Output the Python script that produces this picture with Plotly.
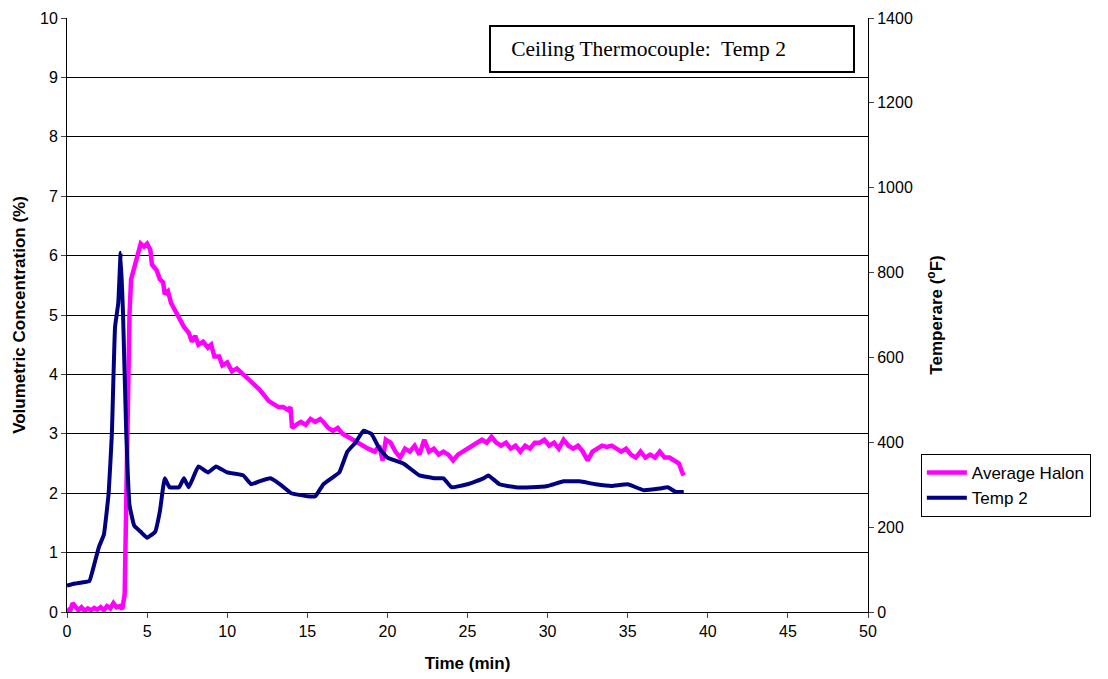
import plotly.graph_objects as go

# Average Halon (volumetric %) vs time (min)
halon_t = [0, 0.2, 0.35, 0.5, 0.7, 0.9, 1.1, 1.3, 1.5, 1.7, 1.9, 2.1, 2.3, 2.5, 2.7, 2.9, 3.1, 3.3, 3.45,
           3.6, 3.7, 3.8, 3.9, 4.0, 4.2, 4.4, 4.6, 4.8, 5.0, 5.2, 5.3, 5.6, 5.8, 6.0, 6.1, 6.3, 6.5, 6.8,
           7.0, 7.3, 7.6, 7.8, 8.0, 8.2, 8.5, 8.8, 9.0, 9.2, 9.5, 9.7, 10.0, 10.3, 10.6, 11.0, 11.3, 11.6,
           12.0, 12.3, 12.6, 12.9, 13.2, 13.5, 13.8, 13.95, 14.05, 14.3, 14.6, 14.9, 15.2, 15.5, 15.8,
           16.0, 16.3, 16.6, 16.9, 17.2, 17.5, 17.8, 18.1, 18.4, 18.8, 19.2, 19.5, 19.7, 19.9, 20.2,
           20.5, 20.8, 21.1, 21.4, 21.7, 22.0, 22.3, 22.6, 22.9, 23.2, 23.5, 23.8, 24.1, 24.4, 24.7,
           25.0, 25.3, 25.6, 25.9, 26.2, 26.5, 26.8, 27.1, 27.4, 27.7, 28.0, 28.3, 28.6, 28.9, 29.2,
           29.5, 29.8, 30.1, 30.4, 30.7, 31.0, 31.3, 31.6, 31.9, 32.2, 32.5, 32.8, 33.1, 33.4, 33.7,
           34.0, 34.3, 34.6, 34.9, 35.2, 35.5, 35.8, 36.1, 36.4, 36.7, 37.0, 37.3, 37.6, 37.9, 38.2,
           38.4, 38.5]
halon_v = [0.05, 0.02, 0.15, 0.1, 0.03, 0.08, 0.02, 0.06, 0.03, 0.07, 0.04, 0.08, 0.03, 0.1, 0.06, 0.15, 0.08, 0.1, 0.05,
           0.3, 2.0, 4.0, 5.0, 5.6, 5.8, 6.0, 6.2, 6.15, 6.2, 6.1, 5.85, 5.75, 5.6, 5.55, 5.35, 5.4, 5.2, 5.05,
           4.95, 4.8, 4.7, 4.55, 4.65, 4.5, 4.55, 4.45, 4.5, 4.3, 4.3, 4.15, 4.2, 4.05, 4.1, 4.0, 3.95, 3.85,
           3.75, 3.65, 3.55, 3.5, 3.45, 3.45, 3.4, 3.45, 3.1, 3.15, 3.2, 3.15, 3.25, 3.2, 3.25,
           3.2, 3.1, 3.05, 3.1, 3.0, 2.95, 2.9, 2.85, 2.8, 2.75, 2.7, 2.8, 2.55, 2.9, 2.85,
           2.7, 2.6, 2.75, 2.7, 2.8, 2.65, 2.9, 2.7, 2.75, 2.65, 2.7, 2.65, 2.55, 2.65, 2.7,
           2.75, 2.8, 2.85, 2.9, 2.85, 2.95, 2.85, 2.8, 2.85, 2.75, 2.8, 2.7, 2.8, 2.75, 2.85,
           2.85, 2.9, 2.8, 2.85, 2.75, 2.9, 2.8, 2.75, 2.8, 2.7, 2.55, 2.7, 2.75, 2.8, 2.78,
           2.8, 2.75, 2.7, 2.75, 2.65, 2.6, 2.7, 2.6, 2.65, 2.6, 2.7, 2.6, 2.6, 2.55, 2.5,
           2.35, 2.3]

# Temp 2 (deg F) vs time (min)
temp_t = [0, 0.5, 1.0, 1.4, 1.7, 2.0, 2.3, 2.6, 2.8, 3.0, 3.2, 3.35, 3.5, 3.7, 3.9, 4.2, 4.6, 5.0, 5.5,
          5.8, 6.1, 6.4, 7.0, 7.3, 7.6, 8.2, 8.8, 9.3, 10.0, 11.0, 11.5, 12.0, 12.7, 13.3, 14.0, 15.0,
          15.5, 16.0, 16.5, 17.0, 17.5, 18.0, 18.5, 19.0, 19.5, 20.0, 21.0, 22.0, 23.0, 23.5, 24.0,
          25.0, 26.0, 26.3, 27.0, 28.0, 29.0, 30.0, 31.0, 32.0, 33.0, 34.0, 35.0, 36.0, 37.0, 37.5,
          38.0, 38.5]
temp_v = [62, 67, 70, 73, 112, 154, 182, 280, 420, 672, 728, 847, 700, 420, 252, 203, 189, 175, 189,
          238, 315, 294, 294, 315, 294, 343, 329, 343, 329, 322, 301, 308, 315, 301, 280, 273,
          273, 301, 315, 329, 378, 399, 427, 420, 385, 364, 350, 322, 315, 315, 294,
          301, 315, 322, 301, 294, 294, 297, 308, 308, 301, 297, 301, 287, 291, 294,
          283, 283]

x_ticks = [0, 5, 10, 15, 20, 25, 30, 35, 40, 45, 50]

font = dict(family="Liberation Sans, Arial", size=16, color="black")

fig = go.Figure()
fig.add_trace(go.Scatter(x=halon_t, y=halon_v, mode="lines", name="Average Halon",
                         line=dict(color="#FF00FF", width=4.5)))
fig.add_trace(go.Scatter(x=temp_t, y=temp_v, mode="lines", name="Temp 2", yaxis="y2",
                         line=dict(color="#000080", width=4, shape="spline", smoothing=0.3)))

fig.update_layout(
    width=1108, height=679,
    margin=dict(l=59, r=248, t=10, b=75),
    paper_bgcolor="white", plot_bgcolor="white",
    font=font,
    showlegend=True,
    legend=dict(x=1.066, y=0.266, xanchor="left", yanchor="top",
                bordercolor="black", borderwidth=1, bgcolor="white",
                font=dict(family="Liberation Sans, Arial", size=17, color="black"),
                tracegroupgap=0, itemwidth=40),
    xaxis=dict(range=[0, 50], tickvals=x_ticks, ticks="outside", ticklen=5, automargin=False,
               showline=True, linecolor="black", linewidth=1, showgrid=False, zeroline=False,
               title=dict(text="<b>Time (min)</b>", standoff=17, font=dict(size=17))),
    yaxis=dict(range=[0, 10], dtick=1, ticks="outside", ticklen=5, automargin=False,
               showline=True, linecolor="black", linewidth=1,
               showgrid=True, gridcolor="black", gridwidth=1, zeroline=False,
               title=dict(text="<b>Volumetric Concentration (%)</b>", standoff=10, font=dict(size=17))),
    yaxis2=dict(range=[0, 1400], dtick=200, overlaying="y", side="right", ticks="outside", ticklen=5,
                automargin=False,
                showline=True, linecolor="black", linewidth=1, showgrid=False, zeroline=False,
                title=dict(text="<b>Temperare (<sup>o</sup>F)</b>", standoff=18, font=dict(size=17))),
    annotations=[dict(text="&nbsp;&nbsp;&nbsp;Ceiling Thermocouple:  Temp 2", xref="paper", yref="paper",
                      x=0.755, y=0.948, xanchor="center", yanchor="middle", showarrow=False,
                      align="left", width=354, height=36, borderpad=4,
                      bordercolor="black", borderwidth=2, bgcolor="white",
                      font=dict(family="Liberation Serif, Times New Roman", size=21.5, color="black"))],
)

fig.write_html("out.html")
